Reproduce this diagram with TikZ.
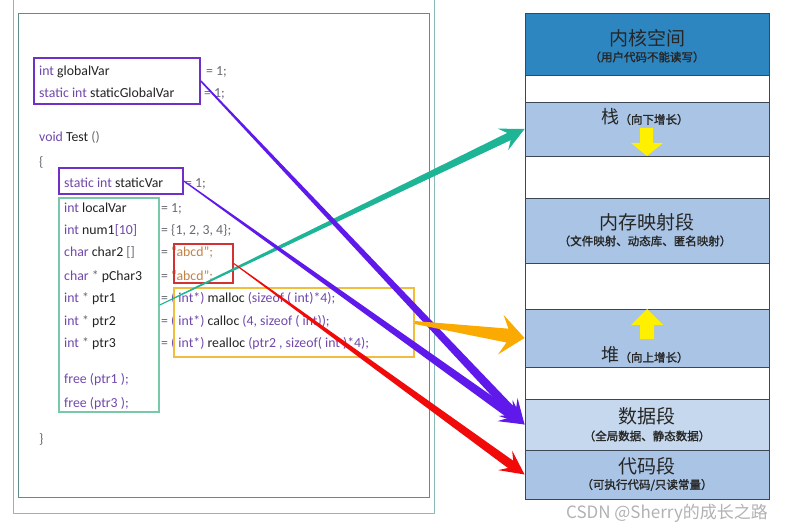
\documentclass[tikz,border=0pt]{standalone}
\usepackage{fontspec}
\setmainfont{Carlito}
\newfontfamily\cjk[AutoFakeBold=1.6]{Noto Sans CJK SC}
\usepackage{tikz}
\usetikzlibrary{calc,fit}

\definecolor{kwc}{RGB}{112,72,170}
\definecolor{idc}{RGB}{35,35,35}
\definecolor{opc}{RGB}{105,105,115}
\definecolor{strc}{RGB}{195,130,70}
\definecolor{boxpur}{RGB}{112,48,200}
\definecolor{boxgrn}{RGB}{120,200,170}
\definecolor{boxred}{RGB}{210,50,50}
\definecolor{boxyel}{RGB}{240,190,60}
\definecolor{arrpur}{RGB}{95,25,235}
\definecolor{arrtea}{RGB}{30,180,150}
\definecolor{arrorg}{RGB}{250,170,0}
\definecolor{arrred}{RGB}{240,10,10}
\definecolor{arryel}{RGB}{255,240,0}
\definecolor{kern}{RGB}{46,134,193}
\definecolor{segblue}{RGB}{169,196,228}
\definecolor{seglite}{RGB}{198,216,237}
\definecolor{segline}{RGB}{60,70,85}
\definecolor{panelout}{RGB}{140,185,185}
\definecolor{panelin}{RGB}{95,140,140}

\newcommand{\kw}[1]{\textcolor{kwc}{#1}}
\newcommand{\op}[1]{\textcolor{opc}{#1}}
\newcommand{\str}[1]{\textcolor{strc}{#1}}

% tapered arrow: colour, from, to, tail/shaft/head half width, head length
\newcommand{\taper}[7]{%
  \pgfmathsetmacro{\tnotch}{0.72*#7}
  \coordinate (tw) at ($(#3)!#7pt!(#2)$);
  \coordinate (tn) at ($(#3)!\tnotch pt!(#2)$);
  \fill[#1] ($(#2)!#4pt!90:(#3)$) -- ($(tn)!#5pt!90:(#3)$) -- ($(tw)!#6pt!90:(#3)$) -- (#3)
    -- ($(tw)!#6pt!-90:(#3)$) -- ($(tn)!#5pt!-90:(#3)$) -- ($(#2)!#4pt!-90:(#3)$) -- cycle;
}

\begin{document}
\begin{tikzpicture}[
  x=1pt,
  y=-1pt,
  code/.style={anchor=base west, inner sep=0, text=idc, font=\fontsize{13.8}{16}\selectfont},
  frame/.style={draw=#1, line width=1.6pt, inner sep=0},
  seg/.style={draw=segline, line width=0.9pt, minimum width=244pt, inner sep=0},
  title/.style={inner sep=0, text=black!85, font=\cjk\fontsize{19}{22}\selectfont},
  sub/.style={inner sep=0, text=black!85, font=\cjk\bfseries\fontsize{11.5}{13}\selectfont}
]
  \useasboundingbox[fill=white] (0,0) rectangle (796,532);

  % code panel
  \draw[panelout, line width=0.9pt] (13,-5) rectangle (434,513);
  \draw[panelin, line width=0.9pt] (18,13) rectangle (429,497);

  \node[code] (gv) at (39,76) {\kw{int} globalVar};
  \node[code] (gvr) at (206,76) {\op{= 1;}};
  \node[code] (sgv) at (39,98) {\kw{static int} staticGlobalVar};
  \node[code] (sgvr) at (204,98) {\op{= 1;}};
  \node[code] (test) at (39,142) {\kw{void} Test \op{()}};
  \node[code] (lbrace) at (39,167) {\op{\{}};
  \node[code] (sv) at (64,188) {\kw{static int} staticVar};
  \node[code] (svr) at (185,188) {\op{= 1;}};
  \node[code] (lv) at (64,212) {\kw{int} localVar};
  \node[code] (lvr) at (161,212) {\op{= 1;}};
  \node[code] (num) at (64,234) {\kw{int} num1\kw{[10]}};
  \node[code] (numr) at (161,234) {\op{= \{1, 2, 3, 4\};}};
  \node[code] (chr) at (64,256) {\kw{char} char2 \op{[]}};
  \node[code] (chrr) at (161,256) {\op{=} \str{“abcd”;}};
  \node[code] (pch) at (64,280) {\kw{char} \op{*} pChar3};
  \node[code] (pchr) at (161,280) {\op{=} \str{“abcd”;}};
  \node[code] (pa) at (64,302) {\kw{int} \op{*} ptr1};
  \node[code] (par) at (161,302) {\op{=} \kw{( int*)} malloc \kw{(sizeof ( int)*4);}};
  \node[code] (pb) at (64,325) {\kw{int} \op{*} ptr2};
  \node[code] (pbr) at (161,325) {\op{=} \kw{( int*)} calloc \kw{(4, sizeof ( int));}};
  \node[code] (pc) at (64,347) {\kw{int} \op{*} ptr3};
  \node[code] (pcr) at (161,347) {\op{=} \kw{( int*)} realloc \kw{(ptr2 , sizeof( int )*4);}};
  \node[code] (fa) at (64,383) {\kw{free (ptr1 );}};
  \node[code] (fc) at (64,407) {\kw{free (ptr3 );}};
  \node[code] (rbrace) at (39,443) {\op{\}}};

  \node[frame=boxpur, fit={(34,58) (200,104)}] (globals) {};
  \node[frame=boxpur, fit={(59,168) (183,194)}] (statics) {};
  \node[frame=boxgrn, fit={(59,198) (159,412)}] (locals) {};
  \node[frame=boxred, fit={(174,244) (233,283)}] (strs) {};
  \node[frame=boxyel, fit={(174,288) (414,357)}] (allocs) {};

  % memory layout
  \foreach \nm/\ya/\yb/\col in {kernel/13/75/kern, gapa/75/102/white, stack/102/156/segblue,
      gapb/156/198/white, mmap/198/263/segblue, gapc/263/309/white, heap/309/367/segblue,
      gapd/367/399/white, data/399/450/seglite, code/450/499/segblue} {
    \pgfmathsetmacro{\h}{\yb-\ya}
    \pgfmathsetmacro{\ym}{(\ya+\yb)/2}
    \node[seg, fill=\col, minimum height=\h pt] (\nm) at (647,\ym) {};
  }

  \node[title] (kerntxt) at (647,38) {内核空间};
  \node[sub] (kernsub) at (647,57) {（用户代码不能读写）};
  \node[inner sep=0, text=black!85] (stacktxt) at (645,117)
    {{\cjk\fontsize{18}{20}\selectfont 栈}{\cjk\bfseries\fontsize{11.5}{13}\selectfont （向下增长）}};
  \node[title] (mmaptxt) at (647,222) {内存映射段};
  \node[sub] (mmapsub) at (645,241) {（文件映射、动态库、匿名映射）};
  \node[inner sep=0, text=black!85] (heaptxt) at (645,355)
    {{\cjk\fontsize{18}{20}\selectfont 堆}{\cjk\bfseries\fontsize{11.5}{13}\selectfont （向上增长）}};
  \node[title] (datatxt) at (647,416) {数据段};
  \node[sub] (datasub) at (647,436) {（全局数据、静态数据）};
  \node[title] (codetxt) at (647,466) {代码段};
  \node[sub] (codesub) at (647,485) {（可执行代码/只读常量）};

  % growth arrows
  \fill[arryel] (640,128) -- (653,128) -- (653,143) -- (663,143) -- (647,156)
    -- (631,143) -- (640,143) -- cycle;
  \fill[arryel] (640,339) -- (654,339) -- (654,325) -- (663,325) -- (647,309)
    -- (631,325) -- (640,325) -- cycle;

  \node[inner sep=0, text=black!30, font=\cjk\fontsize{17}{19}\selectfont] (mark) at (667,513)
    {CSDN @Sherry的成长之路};

  % mapping arrows
  \taper{arrtea}{locals.east}{stack.west}{0.5}{4}{12}{24}
  \taper{arrpur}{globals.east}{data.west}{0.8}{4.5}{13}{24}
  \taper{arrpur}{statics.east}{data.west}{0.6}{4.5}{13}{24}
  \taper{arrorg}{allocs.east}{heap.west}{1.5}{7}{20}{24}
  \taper{arrred}{strs.east}{code.west}{0.5}{4.5}{12}{24}
\end{tikzpicture}
\end{document}
